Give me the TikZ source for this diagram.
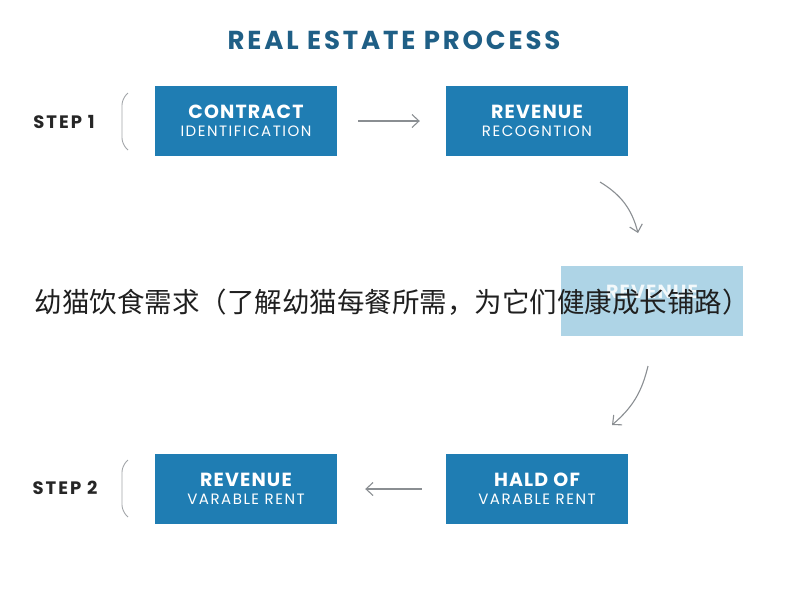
\documentclass[tikz,border=0pt]{standalone}
\usepackage{fontspec}
\setmainfont{Poppins}
\newfontfamily\cjk{Noto Sans CJK SC}
\usetikzlibrary{arrows.meta}
\definecolor{boxblue}{HTML}{1F7DB3}
\definecolor{paleblue}{HTML}{AED4E6}
\definecolor{titleblue}{HTML}{1F5F86}
\definecolor{arrowgray}{HTML}{8A8E92}
\newcommand\headline[1]{{\fontsize{19}{21}\selectfont\bfseries\addfontfeatures{LetterSpace=6}#1}}
\begin{document}
\begin{tikzpicture}[x=1pt,y=-1pt,
      box/.style={fill=boxblue,text=white,minimum width=182pt,minimum height=70pt,
        inner sep=0pt,align=center,font=\fontsize{15}{18}\selectfont\addfontfeatures{LetterSpace=10}},
      flow/.style={arrowgray,line width=1.1pt,-{Straight Barb[length=7pt,width=13pt]}},
      steplabel/.style={font=\fontsize{18}{20}\selectfont\bfseries\addfontfeatures{LetterSpace=11},text=black!85},
      brace/.style={arrowgray!80,line width=0.9pt,rounded corners=6pt}]
    \useasboundingbox (0,0) rectangle (800,600);
    \node[font=\fontsize{26}{30}\selectfont\bfseries\addfontfeatures{LetterSpace=11},text=titleblue] (title) at (394,40) {REAL ESTATE PROCESS};
    % first row
    \node[steplabel] (step1) at (64,122) {STEP 1};
    \node[box] (contract) at (246,121) {\headline{CONTRACT}\\IDENTIFICATION};
    \node[box] (recog) at (537,121) {\headline{REVENUE}\\RECOGNTION};
    \draw[brace] (128,93) -- (122,99) -- (122,144) -- (128,150);
    \draw[flow] ([xshift=21pt]contract.east) -- ([xshift=-26pt]recog.west);
    % middle
    \node[box,fill=paleblue] (middle) at (652,301) {\textcolor{white!85!paleblue}{\headline{REVENUE}}\\~};
    \coordinate (c1s) at (600,182);
    \coordinate (c1e) at (638,233);
    \coordinate (c2s) at (648,366);
    \coordinate (c2e) at (612,425);
    \draw[flow] (c1s) to[bend left=22] (c1e);
    \draw[flow] (c2s) to[bend left=18] (c2e);
    % second row
    \node[steplabel] (step2) at (65,488) {STEP 2};
    \node[box] (varrent) at (246,489) {\headline{REVENUE}\\VARABLE RENT};
    \node[box] (hald) at (537,489) {\headline{HALD OF}\\VARABLE RENT};
    \draw[brace] (128,460) -- (122,466) -- (122,511) -- (128,517);
    \draw[flow] ([xshift=-24pt]hald.west) -- ([xshift=28pt]varrent.east);
    % caption over the picture
    \node[font=\cjk\fontsize{27.5}{32}\selectfont,text=black!88,inner sep=0pt] (caption) at (392,302) {幼猫饮食需求（了解幼猫每餐所需，为它们健康成长铺路）};
\end{tikzpicture}
\end{document}
